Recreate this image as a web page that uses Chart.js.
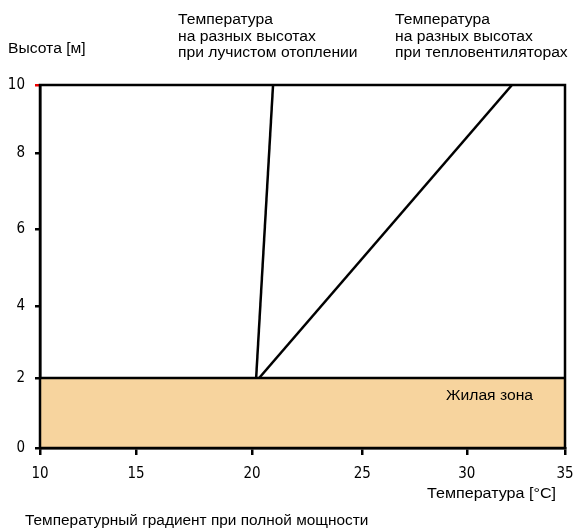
<!DOCTYPE html>
<html>
<head>
<meta charset="utf-8">
<script src="https://cdn.jsdelivr.net/npm/chart.js@4"></script>
<style>
  body { margin: 0; background: #fff; }
  #wrap { position: relative; width: 574px; height: 529px; }
  .lbl { position: absolute; font: 14px "Liberation Sans", Arial, sans-serif; line-height: 16.7px; color: #000;
         white-space: nowrap; transform: scaleX(1.12); transform-origin: 0 0; }
</style>
</head>
<body>
<div id="wrap">
  <canvas id="chart" width="574" height="529"></canvas>
  <div class="lbl" style="left:8px;top:40px">Высота [м]</div>
  <div class="lbl" style="left:178px;top:11px">Температура<br>на разных высотах<br>при лучистом отоплении</div>
  <div class="lbl" style="left:395px;top:11px">Температура<br>на разных высотах<br>при тепловентиляторах</div>
  <div class="lbl" id="zone">Жилая зона</div>
  <div class="lbl" style="left:427px;top:485px;transform:scaleX(1.15)">Температура [°C]</div>
  <div class="lbl" style="left:25px;top:512px;transform:scaleX(1.1)">Температурный градиент при полной мощности</div>
</div>
<script>
// heights in m, temperatures in °C
const heights = [0, 10];
const radiantTemps = [20.0, 20.95];   // лучистое отопление
const fanTemps = [17.7, 32.3];        // тепловентиляторы
const zoneX = [10, 35];
const zoneTop = [2, 2];               // жилая зона 0..2 m
const zoneLabelPos = [29.0, 1.5];
const tempTicks = [10, 15, 20, 25, 30, 35];
const heightTicks = [0, 2, 4, 6, 8, 10];

// the original drawing has uneven tick spacing, so each axis is piecewise linear
const axisMaps = {
  x: {stops: tempTicks, fractions: [0, 0.183, 0.404, 0.614, 0.813, 1]},
  y: {stops: heightTicks, fractions: [0, 0.193, 0.391, 0.603, 0.813, 1]}
};

class PiecewiseScale extends Chart.LinearScale {
  toDecimal(v) {
    const {stops: s, fractions: f} = axisMaps[this.id];
    let i = 1;
    while (i < s.length - 1 && v > s[i]) i++;
    return f[i - 1] + (v - s[i - 1]) / (s[i] - s[i - 1]) * (f[i] - f[i - 1]);
  }
  getPixelForValue(v) {
    return v === null ? NaN : this.getPixelForDecimal(this.toDecimal(v));
  }
  getValueForPixel(p) {
    const {stops: s, fractions: f} = axisMaps[this.id];
    const d = this.getDecimalForPixel(p);
    let i = 1;
    while (i < f.length - 1 && d > f[i]) i++;
    return s[i - 1] + (d - f[i - 1]) / (f[i] - f[i - 1]) * (s[i] - s[i - 1]);
  }
}
PiecewiseScale.id = 'piecewise';
PiecewiseScale.defaults = Chart.LinearScale.defaults;
Chart.register(PiecewiseScale);

const pts = (xs, ys) => xs.map((x, i) => ({x, y: ys[i]}));

// frame around the plot area + place the zone label
const frame = {
  id: 'frame',
  afterDatasetsDraw(chart) {
    const {ctx, chartArea: a} = chart;
    ctx.save();
    ctx.strokeStyle = '#000';
    ctx.lineWidth = 2.5;
    ctx.strokeRect(a.left, a.top, a.right - a.left, a.bottom - a.top);
    ctx.restore();
    const el = document.getElementById('zone');
    el.style.left = chart.scales.x.getPixelForValue(zoneLabelPos[0]) + 'px';
    el.style.top = (chart.scales.y.getPixelForValue(zoneLabelPos[1]) - 8) + 'px';
  }
};

const tickFont = {family: "'DejaVu Sans Condensed', 'DejaVu Sans', sans-serif", size: 15};

new Chart(document.getElementById('chart'), {
  type: 'scatter',
  data: {
    datasets: [
      {data: pts(zoneX, zoneTop), showLine: true, fill: 'origin', backgroundColor: '#f7d49e',
       borderColor: '#000', borderWidth: 2.5, pointRadius: 0},
      {data: pts(radiantTemps, heights), showLine: true, borderColor: '#000', borderWidth: 2.5, pointRadius: 0},
      {data: pts(fanTemps, heights), showLine: true, borderColor: '#000', borderWidth: 2.5, pointRadius: 0}
    ]
  },
  options: {
    responsive: false,
    animation: false,
    layout: {padding: {top: 85, right: 9, left: 0, bottom: 0}},
    plugins: {legend: {display: false}, tooltip: {enabled: false}},
    scales: {
      x: {
        type: 'piecewise',
        min: 10, max: 35,
        afterFit: s => { s.height = 81; s.paddingLeft = 0; s.paddingRight = 0; },
        border: {color: '#000', width: 2.5},
        grid: {drawOnChartArea: false, tickLength: 7, color: '#000', lineWidth: 2.5},
        ticks: {stepSize: 5, padding: 10, color: '#000', font: tickFont}
      },
      y: {
        type: 'piecewise',
        min: 0, max: 10,
        afterFit: s => { s.width = 40; s.paddingTop = 0; s.paddingBottom = 0; },
        border: {color: '#000', width: 2.5},
        grid: {drawOnChartArea: false, tickLength: 5, lineWidth: 2.5,
               color: c => (c.tick && c.tick.value === 10) ? '#e00' : '#000'},
        ticks: {stepSize: 2, padding: 10, color: '#000', font: tickFont}
      }
    }
  },
  plugins: [frame]
});
</script>
</body>
</html>
